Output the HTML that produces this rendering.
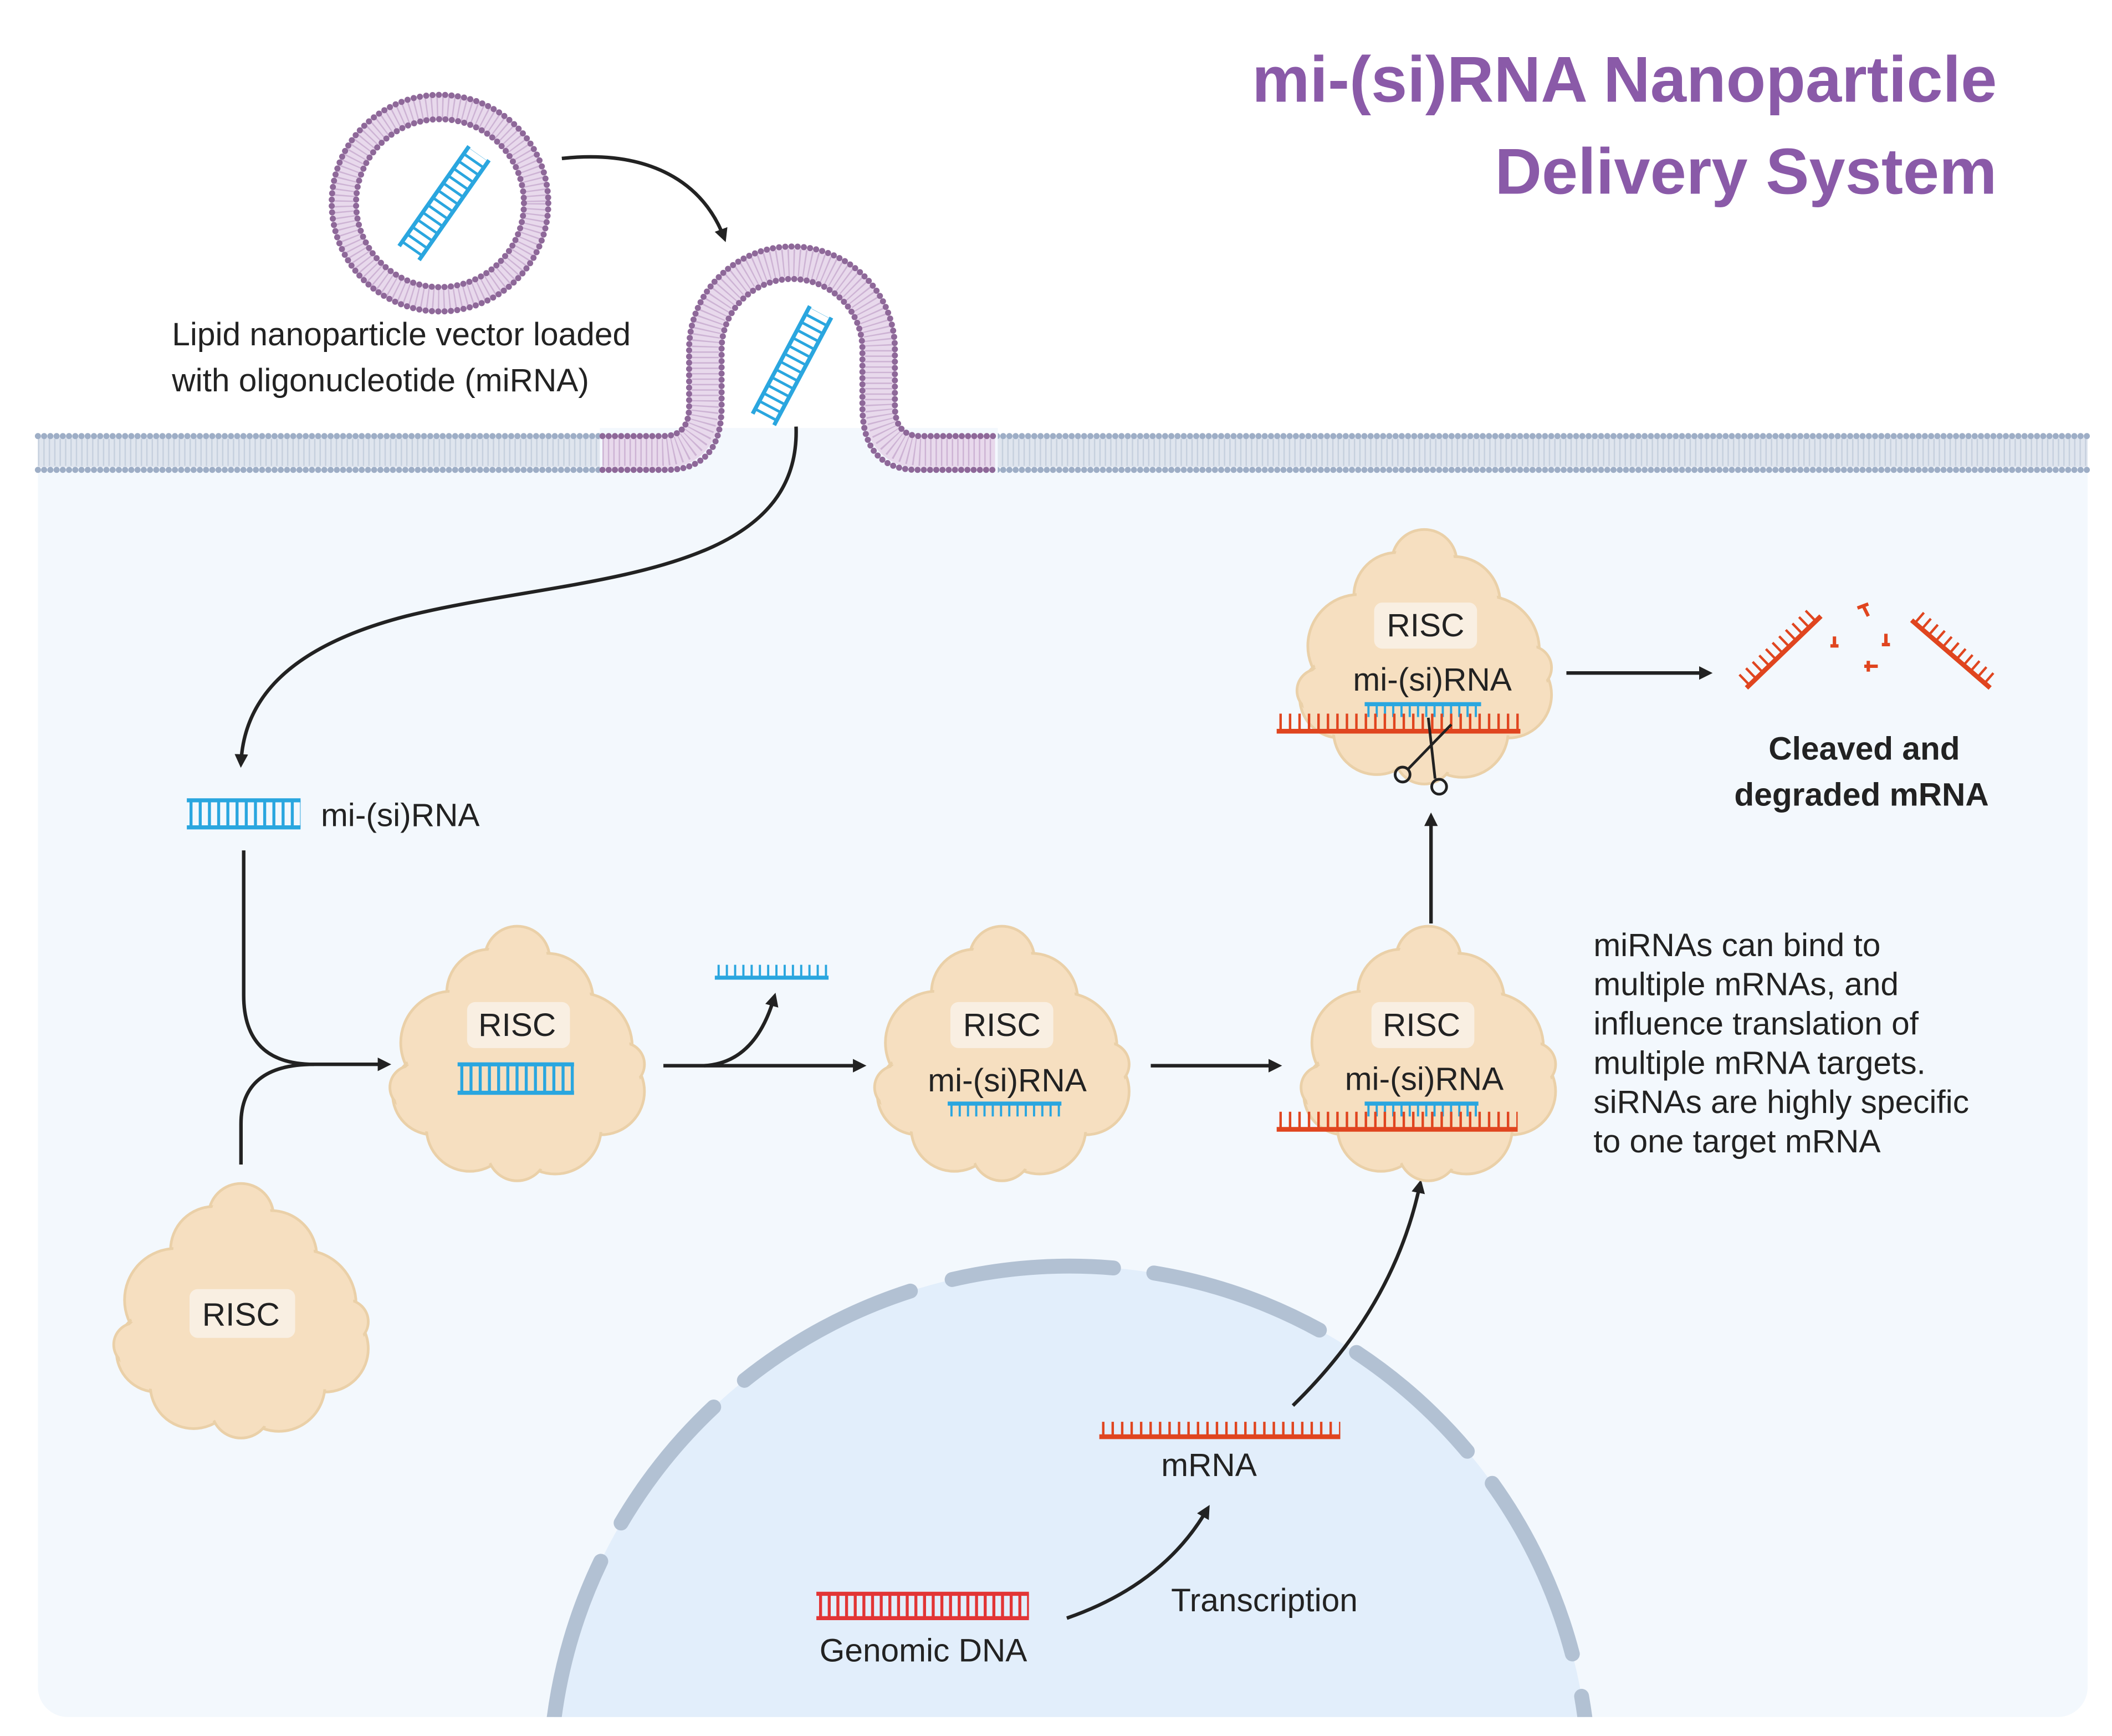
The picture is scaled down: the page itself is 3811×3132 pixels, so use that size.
<!DOCTYPE html>
<html><head><meta charset="utf-8"><style>
html,body{margin:0;padding:0;background:#fff;width:3811px;height:3132px;overflow:hidden;}
svg{display:block;}
text{font-family:"Liberation Sans",sans-serif;fill:#222;}
</style></head><body>
<svg width="3811" height="3132" viewBox="0 0 1560 1282" xmlns="http://www.w3.org/2000/svg">
<defs>
<marker id="ah" markerWidth="10" markerHeight="10" refX="7" refY="5" orient="auto" markerUnits="userSpaceOnUse" viewBox="0 0 10 10">
<path d="M0,0 L10,5 L0,10 z" fill="#222"/></marker>
<clipPath id="cellclip"><rect x="28" y="330" width="1514" height="938" rx="22"/></clipPath>
<g id="risc">
<g fill="#f6dfc0" stroke="#ead0a8" stroke-width="2">
<circle cx="0" cy="-70" r="24"/><circle cx="-20" cy="-45" r="32"/><circle cx="22" cy="-40" r="34"/>
<circle cx="-48" cy="-8" r="38"/><circle cx="45" cy="-5" r="40"/><circle cx="-62" cy="30" r="30"/>
<circle cx="62" cy="28" r="32"/><circle cx="-35" cy="55" r="32"/><circle cx="28" cy="55" r="34"/>
<circle cx="0" cy="72" r="22"/><circle cx="78" cy="8" r="16"/><circle cx="-78" cy="25" r="16"/>
</g>
<g fill="#f6dfc0"><circle cx="0" cy="0" r="62"/><circle cx="-20" cy="-45" r="30"/><circle cx="22" cy="-40" r="32"/>
<circle cx="-48" cy="-8" r="36"/><circle cx="45" cy="-5" r="38"/><circle cx="-62" cy="30" r="28"/><circle cx="62" cy="28" r="30"/>
<circle cx="-35" cy="55" r="30"/><circle cx="28" cy="55" r="32"/><circle cx="0" cy="-70" r="22"/></g>
</g>
</defs>

<text x="1475" y="75" text-anchor="end" font-size="48" font-weight="bold" style="fill:#8a5aa8">mi-(si)RNA Nanoparticle</text>
<text x="1475" y="143" text-anchor="end" font-size="48" font-weight="bold" style="fill:#8a5aa8">Delivery System</text>

<rect x="28" y="330" width="1514" height="938" rx="22" fill="#f3f8fd"/>
<g clip-path="url(#cellclip)">
<circle cx="790" cy="1319" r="384" fill="#e2eefb"/>
<circle cx="790" cy="1319" r="384" fill="none" stroke="#b2c1d3" stroke-width="11" stroke-linecap="round" stroke-dasharray="130 32 110 30 140 32 120 30"/>
</g>

<g>
<line x1="28" y1="334" x2="1542" y2="334" stroke="#dfe5ee" stroke-width="22"/>
<line x1="28" y1="334" x2="1542" y2="334" stroke="#c6d0de" stroke-width="20" stroke-dasharray="1 3"/>
<line x1="28" y1="322" x2="1542" y2="322" stroke="#9eaec6" stroke-width="4.5" stroke-linecap="round" stroke-dasharray="0 4.6"/>
<line x1="28" y1="347" x2="1542" y2="347" stroke="#9eaec6" stroke-width="4.5" stroke-linecap="round" stroke-dasharray="0 4.6"/>
<rect x="443" y="316" width="294" height="37" fill="#f3f8fd"/>
<path d="M445,334 L488,334 Q521,334 521,295 L521,258 A64,64 0 0 1 649,258 L649,295 Q649,334 682,334 L735,334" fill="none" stroke="#e8d9ec" stroke-width="24"/>
<path d="M445,334 L488,334 Q521,334 521,295 L521,258 A64,64 0 0 1 649,258 L649,295 Q649,334 682,334 L735,334" fill="none" stroke="#cdb3d4" stroke-width="20" stroke-dasharray="1 3"/>
<path d="M445,322 L490,322 Q509,322 509,300 L509,258 A76,76 0 0 1 661,258 L661,300 Q661,322 680,322 L735,322" fill="none" stroke="#8e6899" stroke-width="4.5" stroke-linecap="round" stroke-dasharray="0 4.6"/>
<path d="M445,347 L492,347 Q533,347 533,300 L533,258 A52,52 0 0 1 637,258 L637,300 Q637,347 678,347 L735,347" fill="none" stroke="#8e6899" stroke-width="4.5" stroke-linecap="round" stroke-dasharray="0 4.6"/>
</g>

<circle cx="325" cy="150" r="71" fill="none" stroke="#e8d9ec" stroke-width="20"/>
<circle cx="325" cy="150" r="71" fill="none" stroke="#cdb3d4" stroke-width="18" stroke-dasharray="1 3"/>
<circle cx="325" cy="150" r="80" fill="none" stroke="#8e6899" stroke-width="4.5" stroke-linecap="round" stroke-dasharray="0 4.7"/>
<circle cx="325" cy="150" r="62" fill="none" stroke="#8e6899" stroke-width="4.5" stroke-linecap="round" stroke-dasharray="0 4.7"/>
<g transform="translate(328,150) rotate(-55)">
<line x1="-45" y1="-9" x2="45" y2="-9" stroke="#2aa6df" stroke-width="3"/>
<line x1="-45" y1="9" x2="45" y2="9" stroke="#2aa6df" stroke-width="3"/>
<line x1="-42" y1="0" x2="44" y2="0" stroke="#2aa6df" stroke-width="18" stroke-dasharray="2 4.6"/>
</g>
<g transform="translate(585,270) rotate(-62)">
<line x1="-45" y1="-9" x2="45" y2="-9" stroke="#2aa6df" stroke-width="3"/>
<line x1="-45" y1="9" x2="45" y2="9" stroke="#2aa6df" stroke-width="3"/>
<line x1="-42" y1="0" x2="44" y2="0" stroke="#2aa6df" stroke-width="18" stroke-dasharray="2 4.6"/>
</g>

<text x="127" y="255" font-size="24">Lipid nanoparticle vector loaded</text>
<text x="127" y="289" font-size="24">with oligonucleotide (miRNA)</text>

<g fill="none" stroke="#222" stroke-width="2.6">
<path d="M415,117 C480,110 520,135 535,176" marker-end="url(#ah)"/>
<path d="M588,315 C592,430 420,425 300,455 C215,477 180,515 178,564" marker-end="url(#ah)"/>
<path d="M180,628 L180,735 Q180,786 232,786 L286,786" marker-end="url(#ah)"/>
<path d="M178,860 L178,830 Q178,786 232,786"/>
<path d="M490,787 L637,787" marker-end="url(#ah)"/>
<path d="M520,787 Q558,785 572,736" marker-end="url(#ah)"/>
<path d="M850,787 L944,787" marker-end="url(#ah)"/>
<path d="M1057,682 L1057,603" marker-end="url(#ah)"/>
<path d="M1157,497 L1262,497" marker-end="url(#ah)"/>
<path d="M788,1195 Q860,1170 892,1114" marker-end="url(#ah)"/>
<path d="M955,1038 Q1030,965 1049,874" marker-end="url(#ah)"/>
</g>

<line x1="138" y1="591" x2="222" y2="591" stroke="#2aa6df" stroke-width="3"/>
<line x1="138" y1="611" x2="222" y2="611" stroke="#2aa6df" stroke-width="3"/>
<line x1="140" y1="601" x2="222" y2="601" stroke="#2aa6df" stroke-width="20" stroke-dasharray="2.2 4.6"/>
<text x="237" y="610" font-size="24">mi-(si)RNA</text>
<line x1="528" y1="722" x2="612" y2="722" stroke="#2aa6df" stroke-width="3"/>
<line x1="530" y1="717" x2="612" y2="717" stroke="#2aa6df" stroke-width="9" stroke-dasharray="1.6 4.5"/>

<use href="#risc" transform="translate(178,968)"/>
<rect x="140" y="952" width="78" height="36" rx="6" fill="#f9efe2"/>
<text x="178" y="979" font-size="24" text-anchor="middle">RISC</text>

<use href="#risc" transform="translate(382,778)"/>
<rect x="345" y="740" width="76" height="34" rx="6" fill="#f9efe2"/>
<text x="382" y="765" font-size="24" text-anchor="middle">RISC</text>
<line x1="338" y1="786" x2="424" y2="786" stroke="#2aa6df" stroke-width="3"/>
<line x1="338" y1="807" x2="424" y2="807" stroke="#2aa6df" stroke-width="3"/>
<line x1="340" y1="796" x2="424" y2="796" stroke="#2aa6df" stroke-width="20" stroke-dasharray="2.2 4.6"/>

<use href="#risc" transform="translate(740,778)"/>
<rect x="702" y="740" width="76" height="34" rx="6" fill="#f9efe2"/>
<text x="740" y="765" font-size="24" text-anchor="middle">RISC</text>
<text x="744" y="806" font-size="24" text-anchor="middle">mi-(si)RNA</text>
<line x1="700" y1="815" x2="784" y2="815" stroke="#2aa6df" stroke-width="3"/>
<line x1="702" y1="820" x2="784" y2="820" stroke="#2aa6df" stroke-width="9" stroke-dasharray="1.6 4.5"/>

<use href="#risc" transform="translate(1055,778)"/>
<rect x="1013" y="740" width="76" height="34" rx="6" fill="#f9efe2"/>
<text x="1050" y="765" font-size="24" text-anchor="middle">RISC</text>
<text x="1052" y="805" font-size="24" text-anchor="middle">mi-(si)RNA</text>
<line x1="1008" y1="815" x2="1092" y2="815" stroke="#2aa6df" stroke-width="3"/>
<line x1="1010" y1="820" x2="1092" y2="820" stroke="#2aa6df" stroke-width="9" stroke-dasharray="1.6 4.5"/>
<line x1="943" y1="834" x2="1121" y2="834" stroke="#e0451f" stroke-width="3.5"/>
<line x1="945" y1="827" x2="1121" y2="827" stroke="#e0451f" stroke-width="12" stroke-dasharray="1.8 5.2"/>

<use href="#risc" transform="translate(1052,485)"/>
<rect x="1015" y="445" width="76" height="34" rx="6" fill="#f9efe2"/>
<text x="1053" y="470" font-size="24" text-anchor="middle">RISC</text>
<text x="1058" y="510" font-size="24" text-anchor="middle">mi-(si)RNA</text>
<line x1="1008" y1="520" x2="1094" y2="520" stroke="#2aa6df" stroke-width="3"/>
<line x1="1010" y1="525" x2="1094" y2="525" stroke="#2aa6df" stroke-width="9" stroke-dasharray="1.6 4.5"/>
<line x1="943" y1="540" x2="1123" y2="540" stroke="#e0451f" stroke-width="3.5"/>
<line x1="945" y1="533" x2="1123" y2="533" stroke="#e0451f" stroke-width="12" stroke-dasharray="1.8 5.2"/>
<g fill="none" stroke="#222" stroke-width="2">
<line x1="1072" y1="535" x2="1040" y2="568"/>
<line x1="1055" y1="530" x2="1060" y2="575"/>
<circle cx="1036" cy="572" r="5.5"/>
<circle cx="1063" cy="581" r="5.5"/>
</g>

<g stroke="#e0451f">
<line x1="1290" y1="508" x2="1345" y2="455" stroke-width="3.5"/>
<line x1="1412" y1="458" x2="1470" y2="508" stroke-width="3.5"/>
</g>
<g transform="translate(1317,481) rotate(-44)"><line x1="-36" y1="-5" x2="36" y2="-5" stroke="#e0451f" stroke-width="10" stroke-dasharray="1.8 5"/></g>
<g transform="translate(1441,483) rotate(41)"><line x1="-36" y1="-5" x2="36" y2="-5" stroke="#e0451f" stroke-width="10" stroke-dasharray="1.8 5"/></g>
<g stroke="#e0451f" stroke-width="2.5">
<path d="M1372,449 L1380,446 M1376,447 L1380,455"/>
<path d="M1355,470 L1355,477 M1352,477 L1358,477"/>
<path d="M1393,468 L1393,476 M1390,476 L1396,476"/>
<path d="M1377,492 L1387,492 M1380,488 L1380,496"/>
</g>
<text x="1377" y="561" font-size="24" font-weight="bold" text-anchor="middle">Cleaved and</text>
<text x="1375" y="595" font-size="24" font-weight="bold" text-anchor="middle">degraded mRNA</text>

<g font-size="24">
<text x="1177" y="706">miRNAs can bind to</text>
<text x="1177" y="735">multiple mRNAs, and</text>
<text x="1177" y="764">influence translation of</text>
<text x="1177" y="793">multiple mRNA targets.</text>
<text x="1177" y="822">siRNAs are highly specific</text>
<text x="1177" y="851">to one target mRNA</text>
</g>

<line x1="812" y1="1061" x2="990" y2="1061" stroke="#e0451f" stroke-width="3.5"/>
<line x1="814" y1="1055" x2="990" y2="1055" stroke="#e0451f" stroke-width="10" stroke-dasharray="1.8 5.2"/>
<text x="893" y="1090" font-size="24" text-anchor="middle">mRNA</text>
<line x1="603" y1="1177" x2="760" y2="1177" stroke="#e23535" stroke-width="3"/>
<line x1="603" y1="1195" x2="760" y2="1195" stroke="#e23535" stroke-width="3"/>
<line x1="605" y1="1186" x2="760" y2="1186" stroke="#e23535" stroke-width="18" stroke-dasharray="2.2 4.2"/>
<text x="682" y="1227" font-size="24" text-anchor="middle">Genomic DNA</text>
<text x="865" y="1190" font-size="24">Transcription</text>
</svg>
</body></html>
